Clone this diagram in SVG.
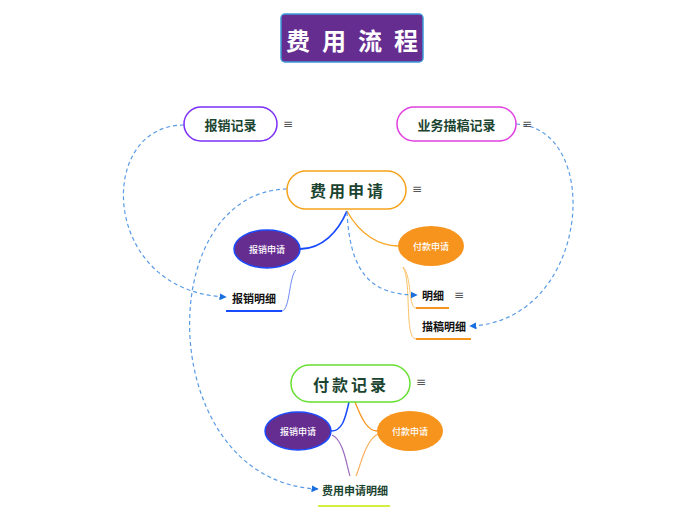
<svg xmlns="http://www.w3.org/2000/svg" width="696" height="520" viewBox="0 0 696 520">
<defs>
<style>
.t{font-family:"Noto Sans CJK SC","Noto Sans",sans-serif;font-weight:bold;fill:#1b4430;text-anchor:middle;dominant-baseline:central}
.w{font-family:"Noto Sans CJK SC","Noto Sans",sans-serif;font-size:9px;font-weight:500;fill:#ffffff;text-anchor:middle;dominant-baseline:central}
.s{font-family:"Noto Sans CJK SC","Noto Sans",sans-serif;font-size:11px;font-weight:bold;fill:#111111;dominant-baseline:central}
.m{font-family:"DejaVu Sans",sans-serif;font-size:12px;fill:#555555;dominant-baseline:central}
.d{fill:none;stroke:#5a9be6;stroke-width:1.2;stroke-dasharray:4,3}
.pill{fill:#ffffff;stroke-width:1.5}
</style>
<marker id="ar" viewBox="0 0 10 10" refX="9" refY="5" markerWidth="6" markerHeight="6" orient="auto">
<path d="M0,0 L10,5 L0,10 z" fill="#1a6fe0"/>
</marker>
</defs>
<rect width="696" height="520" fill="#ffffff"/>
<g id="connectors">
<path d="M347,211 C 338,232 322,249 300,249" fill="none" stroke="#1a4cff" stroke-width="1.8"/>
<path d="M347,211 C 360,235 380,246 398,246" fill="none" stroke="#f7a21b" stroke-width="1.3"/>
<path d="M296,270 C 289,276 290,310 282,311" fill="none" stroke="#4a6cf0" stroke-width="0.8"/>
<line x1="226" y1="311" x2="282" y2="311" stroke="#1a4cff" stroke-width="2"/>
<path d="M403,267 C 412,276 408,308 416,308" fill="none" stroke="#fbc36a" stroke-width="1"/>
<path d="M403,267 C 412,282 404,339 416,339" fill="none" stroke="#fbc36a" stroke-width="1"/>
<line x1="416" y1="308" x2="449" y2="308" stroke="#f7941d" stroke-width="2"/>
<line x1="416" y1="339" x2="471" y2="339" stroke="#f7941d" stroke-width="2"/>
<path d="M349,402 C 345,420 342,431 331,431" fill="none" stroke="#1a4cff" stroke-width="1.5"/>
<path d="M355,402 C 362,420 368,431 377,431" fill="none" stroke="#f7941d" stroke-width="1.3"/>
<path d="M332,435 C 344,440 347,468 350,476" fill="none" stroke="#9b6bbf" stroke-width="1.2"/>
<path d="M378,434 C 365,440 360,468 356,476" fill="none" stroke="#fbb060" stroke-width="1.2"/>
<line x1="318" y1="506" x2="390" y2="506" stroke="#d4ee44" stroke-width="2"/>
<path class="d" d="M184,125 C 95,125 100,292 226,297" marker-end="url(#ar)"/>
<path class="d" d="M287,189 C 150,192 155,482 318,489" marker-end="url(#ar)"/>
<path class="d" d="M347,212 C 350,272 370,295 417,295" marker-end="url(#ar)"/>
<path class="d" d="M516,124 C 605,128 590,322 470,326" marker-end="url(#ar)"/>
</g>
<g id="title">
<rect x="281" y="14" width="142" height="48" rx="4" fill="#662d91" stroke="#3d9ad8" stroke-width="1.5"/>
<text x="358" y="39" class="t" style="fill:#ffffff;font-size:24px;letter-spacing:12px">费用流程</text>
</g>
<g id="baoxiao-jilu">
<rect x="184" y="107" width="93" height="34" rx="17" class="pill" stroke="#7b2ff7"/>
<text x="230.5" y="124" class="t" font-size="13">报销记录</text>
<text x="283" y="124" class="m">≡</text>
</g>
<g id="yewu-jilu">
<rect x="397" y="107" width="119" height="34" rx="17" class="pill" stroke="#e040e0"/>
<text x="456.5" y="124" class="t" font-size="13">业务描稿记录</text>
<text x="522" y="124" class="m">≡</text>
</g>
<g id="feiyong-shenqing">
<rect x="287" y="171" width="119" height="38" rx="19" class="pill" stroke="#f7a21b"/>
<text x="348" y="190" class="t" style="font-size:16px;letter-spacing:3px">费用申请</text>
<text x="412" y="189" class="m">≡</text>
</g>
<g id="baoxiao-shenqing-1">
<ellipse cx="267" cy="249" rx="33" ry="19" fill="#662d91" stroke="#1a4cff" stroke-width="1.5"/>
<text x="267" y="249" class="w">报销申请</text>
</g>
<g id="fukuan-shenqing-1">
<ellipse cx="431" cy="246" rx="33" ry="20" fill="#f7941d"/>
<text x="431" y="246" class="w">付款申请</text>
</g>
<g id="baoxiao-mingxi">
<text x="232" y="298" class="s">报销明细</text>
</g>
<g id="mingxi">
<text x="422" y="295" class="s">明细</text>
<text x="454" y="295" class="m">≡</text>
</g>
<g id="miaogao-mingxi">
<text x="422" y="326" class="s">描稿明细</text>
</g>
<g id="fukuan-jilu">
<rect x="291" y="365" width="119" height="37" rx="18.5" class="pill" stroke="#66e030"/>
<text x="351" y="384" class="t" style="font-size:16px;letter-spacing:3px">付款记录</text>
<text x="416" y="382" class="m">≡</text>
</g>
<g id="baoxiao-shenqing-2">
<ellipse cx="298" cy="431" rx="33" ry="19" fill="#662d91" stroke="#1a4cff" stroke-width="1.5"/>
<text x="298" y="431" class="w">报销申请</text>
</g>
<g id="fukuan-shenqing-2">
<ellipse cx="410" cy="431" rx="33" ry="20" fill="#f7941d"/>
<text x="410" y="431" class="w">付款申请</text>
</g>
<g id="feiyong-shenqing-mingxi">
<text x="322" y="490" class="s" style="fill:#1b4430">费用申请明细</text>
</g>
</svg>
